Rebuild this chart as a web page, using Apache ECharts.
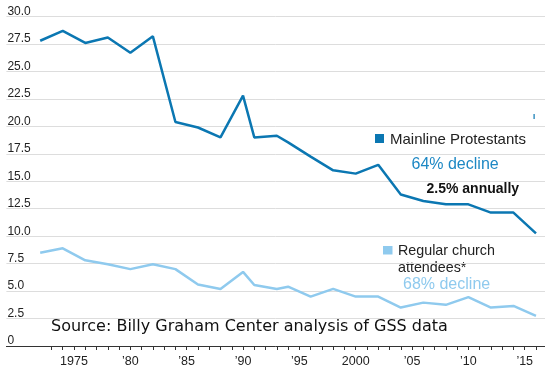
<!DOCTYPE html>
<html>
<head>
<meta charset="utf-8">
<script src="https://cdn.jsdelivr.net/npm/echarts@6/dist/echarts.min.js"></script>
<style>
html,body{margin:0;padding:0;background:#fff;}
#chart{width:545px;height:371px;}
</style>
</head>
<body>
<div id="chart"></div>
<script>
// ---- data ----
var years = [1972,1974,1976,1978,1980,1982,1984,1986,1988,1990,1991,1993,1994,1996,1998,2000,2002,2004,2006,2008,2010,2012,2014,2016];
var mainline = [27.8,28.7,27.6,28.1,26.7,28.2,20.4,19.9,19.0,22.8,19.0,19.15,18.55,17.25,16.0,15.7,16.5,13.8,13.2,12.9,12.9,12.15,12.15,10.25];
var regular = [8.5,8.9,7.8,7.45,7.0,7.45,7.0,5.6,5.2,6.75,5.55,5.2,5.4,4.5,5.2,4.5,4.5,3.5,3.95,3.75,4.45,3.5,3.65,2.75];
var xTickValues = [1975,1980,1985,1990,1995,2000,2005,2010,2015];
var xTickLabels = ['1975','\u201980','\u201985','\u201990','\u201995','2000','\u201905','\u201910','\u201915'];
var xMinorTicks = [];
for (var y = 1973; y <= 2016; y++) xMinorTicks.push(y);
var yTickValues = [0,2.5,5,7.5,10,12.5,15,17.5,20,22.5,25,27.5,30];
var yTickLabels = ['0','2.5','5.0','7.5','10.0','12.5','15.0','17.5','20.0','22.5','25.0','27.5','30.0'];
var seriesNames = ['Mainline Protestants','Regular church attendees*'];

var DARK = '#0b77b2';
var DARK_TEXT = '#1d88c4';
var LIGHT = '#8fcaee';
var FONT = '"Liberation Sans", Arial, sans-serif';

function pairs(xs, vs){ return xs.map(function(x,i){ return [x, vs[i]]; }); }

var chart = echarts.init(document.getElementById('chart'), null, {renderer:'canvas'});
chart.setOption({
  animation: false,
  backgroundColor: '#ffffff',
  grid: {left: 6.4, right: 0, top: 16.6, bottom: 25, containLabel: false},
  xAxis: {
    type: 'value', min: 1969, max: 2016.8,
    splitLine: {show: false},
    axisLine: {show: true, lineStyle: {color: '#333', width: 1}},
    axisTick: {show: true, length: 4, lineStyle: {color: '#333', width: 1}, customValues: xMinorTicks},
    axisLabel: {
      customValues: xTickValues,
      margin: 9, fontSize: 12.5, fontFamily: FONT, color: '#222',
      formatter: function(v){ var i = xTickValues.indexOf(Math.round(v)); return i >= 0 ? xTickLabels[i] : ''; }
    }
  },
  yAxis: {
    type: 'value', min: 0, max: 30, interval: 2.5,
    axisLine: {show: false}, axisTick: {show: false},
    splitLine: {show: true, lineStyle: {color: '#dddddd', width: 1}},
    axisLabel: {
      inside: true, margin: 1, align: 'left', verticalAlign: 'bottom',
      fontSize: 12, fontFamily: FONT, color: '#222', lineHeight: 10,
      formatter: function(v){ var i = yTickValues.indexOf(v); return i >= 0 ? yTickLabels[i] : ''; }
    }
  },
  series: [
    {name: seriesNames[0], type: 'line', data: pairs(years, mainline), symbol: 'none', smooth: false,
     lineStyle: {color: DARK, width: 2.5}, z: 3},
    {name: seriesNames[1], type: 'line', data: pairs(years, regular), symbol: 'none', smooth: false,
     lineStyle: {color: LIGHT, width: 2.5}, z: 2}
  ],
  graphic: [
    {type: 'rect', shape: {x: 375, y: 134, width: 9, height: 9}, style: {fill: DARK}},
    {type: 'text', x: 390, y: 140, style: {text: seriesNames[0], font: '15px ' + FONT, fill: '#222', verticalAlign: 'middle'}},
    {type: 'text', x: 411.5, y: 165, style: {text: '64% decline', font: '16px ' + FONT, fill: DARK_TEXT, verticalAlign: 'middle'}},
    {type: 'text', x: 426.5, y: 189, style: {text: '2.5% annually', font: 'bold 14px ' + FONT, fill: '#111', verticalAlign: 'middle'}},
    {type: 'rect', shape: {x: 383, y: 246, width: 9.5, height: 8.5}, style: {fill: LIGHT}},
    {type: 'text', x: 398, y: 251, style: {text: 'Regular church', font: '14.3px ' + FONT, fill: '#222', verticalAlign: 'middle'}},
    {type: 'text', x: 398, y: 268, style: {text: 'attendees*', font: '14.3px ' + FONT, fill: '#222', verticalAlign: 'middle'}},
    {type: 'text', x: 403, y: 285, style: {text: '68% decline', font: '16px ' + FONT, fill: LIGHT, verticalAlign: 'middle'}},
    {type: 'text', x: 51, y: 326.5, style: {text: 'Source: Billy Graham Center analysis of GSS data', font: '16px "DejaVu Sans", Verdana, sans-serif', fill: '#111', verticalAlign: 'middle'}},
    {type: 'rect', shape: {x: 533.5, y: 114, width: 1.2, height: 5}, style: {fill: DARK}}
  ]
});
</script>
</body>
</html>
